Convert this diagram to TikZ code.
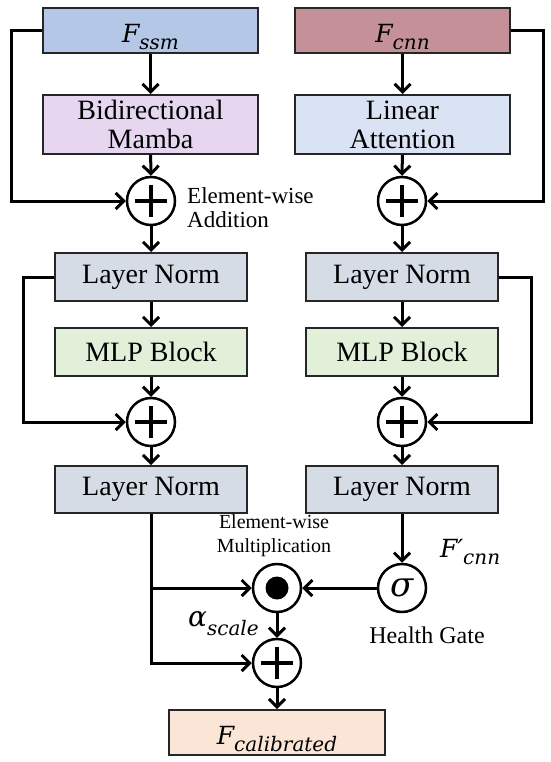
\documentclass[tikz,border=0pt]{standalone}
\usepackage{fontspec}
\setmainfont{Liberation Serif}
\newfontfamily\varfont{DejaVu Serif}
\usepackage{tikz}
\usetikzlibrary{arrows.meta, calc}

\definecolor{ssmblue}{RGB}{180,199,231}
\definecolor{mambapurple}{RGB}{230,214,240}
\definecolor{cnnrose}{RGB}{197,145,153}
\definecolor{attnblue}{RGB}{218,227,243}
\definecolor{normgray}{RGB}{214,220,229}
\definecolor{mlpgreen}{RGB}{226,240,217}
\definecolor{calpeach}{RGB}{251,229,214}

% italic variable with a lowered subscript
\newcommand{\vsub}[3][7pt]{{\varfont\itshape\fontsize{25}{25}\selectfont #2\raisebox{-#1}{\fontsize{20}{20}\selectfont #3}}}

\tikzset{
  box/.style={draw=black!85, line width=2pt, minimum width=215pt, minimum height=45pt,
    inner sep=0pt, align=center, font=\fontsize{28}{32}\selectfont},
  varbox/.style={box, text height=29pt, text depth=5pt},
  normbox/.style={box, minimum width=192pt, minimum height=48pt},
  circ/.style={draw, circle, line width=2.5pt, minimum size=48pt, inner sep=0pt, fill=white},
  plus/.style={circ, path picture={
      \draw[line width=3.5pt] ([xshift=-16pt]path picture bounding box.center) -- ([xshift=16pt]path picture bounding box.center)
        ([yshift=-16pt]path picture bounding box.center) -- ([yshift=16pt]path picture bounding box.center);}},
  dotc/.style={circ, path picture={\fill[black] (path picture bounding box.center) circle (11.5pt);}},
  arr/.style={line width=3pt, -{Straight Barb[length=8pt,width=16pt]}},
  lbl/.style={inner sep=0pt}
}

\begin{document}
\begin{tikzpicture}[x=1pt,y=-1pt]
  \useasboundingbox (0,0) rectangle (550,762);

  % left branch
  \node[varbox, fill=ssmblue] (fssm) at (150.5,31) {\vsub{F}{ssm}};
  \node[box, fill=mambapurple, minimum height=59pt] (mamba) at (150.5,124.5) {Bidirectional\\[-3pt]Mamba};
  \node[plus] (addA) at (151,201) {};
  \node[normbox, fill=normgray] (lnA) at (151,277) {Layer Norm};
  \node[normbox, fill=mlpgreen] (mlpA) at (151,352) {MLP Block};
  \node[plus] (addB) at (151,422) {};
  \node[normbox, fill=normgray, minimum height=47pt] (lnB) at (151,489.5) {Layer Norm};

  % right branch
  \node[varbox, fill=cnnrose] (fcnn) at (402.5,31) {\vsub{F}{cnn}};
  \node[box, fill=attnblue, minimum height=59pt] (attn) at (402.5,124.5) {Linear\\[-3pt]Attention};
  \node[plus] (addC) at (402,201) {};
  \node[normbox, fill=normgray] (lnC) at (402,277) {Layer Norm};
  \node[normbox, fill=mlpgreen] (mlpC) at (402,352) {MLP Block};
  \node[plus] (addD) at (402,422) {};
  \node[normbox, fill=normgray, minimum height=47pt] (lnD) at (402,489.5) {Layer Norm};

  % fusion
  \node[dotc] (mul) at (277,588) {};
  \node[circ, font=\varfont\itshape\fontsize{34}{34}\selectfont] (sig) at (402,588) {σ};
  \node[plus] (addE) at (277,663) {};
  \node[varbox, fill=calpeach, minimum width=216pt] (fcal) at (277,732.5) {\vsub{F}{calibrated}};

  % labels
  \node[lbl, anchor=west, align=left, font=\fontsize{23}{24}\selectfont] (addlbl) at (187,208) {Element-wise\\Addition};
  \node[lbl, align=center, font=\fontsize{20}{24}\selectfont] (mullbl) at (274,536) {Element-wise\\Multiplication};
  \node[lbl, anchor=west] (fcnnp) at (440,552) {\vsub{F′}{cnn}};
  \node[lbl, anchor=west] (alpha) at (188,624) {\vsub[9pt]{\fontsize{28}{28}\selectfont α}{scale}};
  \node[lbl, font=\fontsize{24}{24}\selectfont] (gate) at (427,635) {Health Gate};

  % main flow
  \draw[arr] (fssm) -- (mamba);
  \draw[arr] (mamba) -- (addA);
  \draw[arr] (addA) -- (lnA);
  \draw[arr] (lnA) -- (mlpA);
  \draw[arr] (mlpA) -- (addB);
  \draw[arr] (addB) -- (lnB);
  \draw[arr] (fcnn) -- (attn);
  \draw[arr] (attn) -- (addC);
  \draw[arr] (addC) -- (lnC);
  \draw[arr] (lnC) -- (mlpC);
  \draw[arr] (mlpC) -- (addD);
  \draw[arr] (addD) -- (lnD);

  % skip connections
  \draw[arr] (fssm.west) -- ++(-31,0) |- (addA.west);
  \draw[arr] (lnA.west) -- ++(-31,0) |- (addB.west);
  \draw[arr] (fcnn.east) -- ++(32,0) |- (addC.east);
  \draw[arr] (lnC.east) -- ++(32,0) |- (addD.east);

  % gate and calibration
  \draw[arr] (lnD) -- (sig);
  \draw[arr] (sig) -- (mul);
  \draw[arr] (lnB.south) |- (addE.west);
  \draw[arr] (lnB.south |- mul) -- (mul.west);
  \draw[arr] (mul) -- (addE);
  \draw[arr] (addE) -- (fcal);
\end{tikzpicture}
\end{document}
